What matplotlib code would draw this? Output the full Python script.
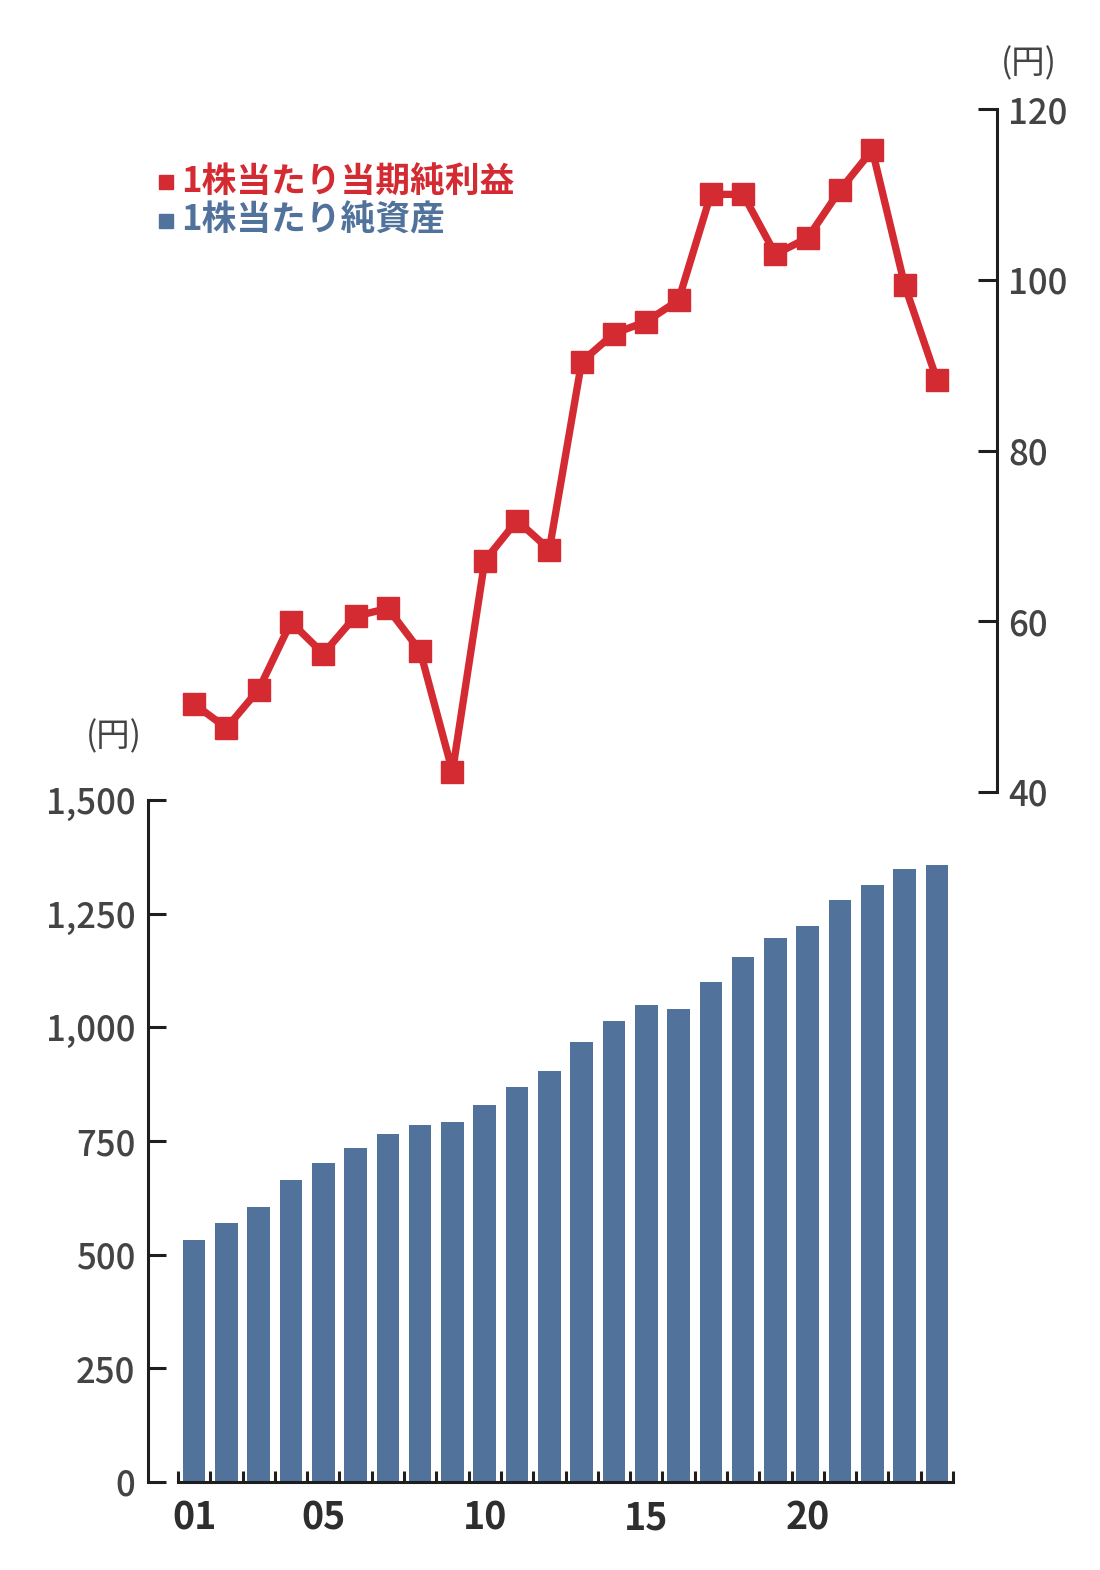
import matplotlib
matplotlib.use("Agg")
import matplotlib.pyplot as plt
from matplotlib.lines import Line2D
from matplotlib.ticker import FuncFormatter, FixedLocator

plt.rcParams['font.family'] = ['Noto Sans CJK JP', 'DejaVu Sans']

# fiscal years 2001-2024
years = ['01', '02', '03', '04', '05', '06', '07', '08', '09', '10', '11', '12',
         '13', '14', '15', '16', '17', '18', '19', '20', '21', '22', '23', '24']
year_labels = {'01': '01', '05': '05', '10': '10', '15': '15', '20': '20'}

# 1株当たり当期純利益 (円)
eps = [50.3, 47.5, 52.0, 59.9, 56.2, 60.6, 61.5, 56.5, 42.4, 67.1, 71.8, 68.4,
       90.4, 93.7, 95.1, 97.6, 110.0, 110.0, 103.0, 104.9, 110.5, 115.2, 99.4, 88.3]

# 1株当たり純資産 (円)
bps = [532, 570, 605, 664, 702, 735, 765, 785, 792, 829, 869, 904,
       968, 1014, 1049, 1040, 1100, 1155, 1196, 1223, 1280, 1313, 1348, 1357]

RED = '#d42a32'
BLUE = '#50729b'
AXIS = '#1e1e1e'
TXT = '#444444'

W, H = 1100, 1570
fig = plt.figure(figsize=(W / 100, H / 100), dpi=100)

def px_box(x0, x1, ytop, ybot):
    return [x0 / W, 1 - ybot / H, (x1 - x0) / W, (ybot - ytop) / H]

# category layout: first slot starts at 178px, last ends at 953px
slot = (953 - 178) / 24
xs = list(range(len(years)))

############################ bars ############################
axb = fig.add_axes(px_box(148, 953, 800, 1482))
axb.bar(xs, bps, width=0.7, color=BLUE, zorder=2)
axb.set_xlim(-0.5 - 30 / slot, 23.5)
axb.set_ylim(0, 1500)
for s in ['top', 'right']:
    axb.spines[s].set_visible(False)
axb.spines['left'].set_linewidth(2.2)
axb.spines['left'].set_color(AXIS)
axb.spines['bottom'].set_linewidth(2.2)
axb.spines['bottom'].set_color(AXIS)
axb.spines['bottom'].set_bounds(-0.5, 23.5)
axb.set_yticks([0, 250, 500, 750, 1000, 1250, 1500])
axb.yaxis.set_major_formatter(FuncFormatter(lambda v, p: f'{int(v):,}'))
axb.tick_params(axis='y', direction='in', length=13, width=2.2, color=AXIS,
                labelsize=25, labelcolor=TXT, pad=9)
for t in axb.get_yticklabels():
    t.set_fontweight('medium')
lab_pos = [i for i, y in enumerate(years) if y in year_labels]
axb.set_xticks(lab_pos)
axb.set_xticklabels([year_labels[years[i]] for i in lab_pos],
                    fontsize=27, fontweight='bold', color='#2e2e2e')
axb.tick_params(axis='x', which='major', length=0, pad=12)
axb.xaxis.set_minor_locator(FixedLocator([i - 0.5 for i in range(len(years) + 1)]))
axb.tick_params(axis='x', which='minor', direction='in', length=8, width=2.2, color=AXIS)

############################ line ############################
axl = fig.add_axes(px_box(148, 997, 109, 792))
axl.patch.set_alpha(0)
axl.plot(xs, eps, color=RED, lw=5.3, marker='s', ms=16.5, mec=RED, mfc=RED,
         clip_on=False, zorder=3)
axl.set_xlim(-0.5 - 30 / slot, 23.5 + 44 / slot)
axl.set_ylim(40, 120)
for s in ['top', 'left', 'bottom']:
    axl.spines[s].set_visible(False)
axl.spines['right'].set_linewidth(2.2)
axl.spines['right'].set_color(AXIS)
axl.set_xticks([])
axl.yaxis.tick_right()
axl.set_yticks([40, 60, 80, 100, 120])
axl.tick_params(axis='y', direction='in', length=13.5, width=2.2, color=AXIS,
                labelsize=25, labelcolor=TXT, pad=8)
for t in axl.get_yticklabels():
    t.set_fontweight('medium')

############################ units and legend ############################
fig.text(1029 / W, 1 - 64 / H, '(円)', fontsize=24, color=TXT, ha='center', va='center')
fig.text(114 / W, 1 - 737 / H, '(円)', fontsize=24, color=TXT, ha='center', va='center')

fig.add_artist(Line2D([166 / W], [1 - 182 / H], marker='s', ms=9.5, color=RED,
                      transform=fig.transFigure))
fig.add_artist(Line2D([166 / W], [1 - 221 / H], marker='s', ms=9.5, color=BLUE,
                      transform=fig.transFigure))
fig.text(181 / W, 1 - 181 / H, '1株当たり当期純利益', fontsize=25, fontweight='bold',
         color=RED, ha='left', va='center')
fig.text(181 / W, 1 - 220 / H, '1株当たり純資産', fontsize=25, fontweight='bold',
         color=BLUE, ha='left', va='center')

fig.savefig('out.png', dpi=100)
